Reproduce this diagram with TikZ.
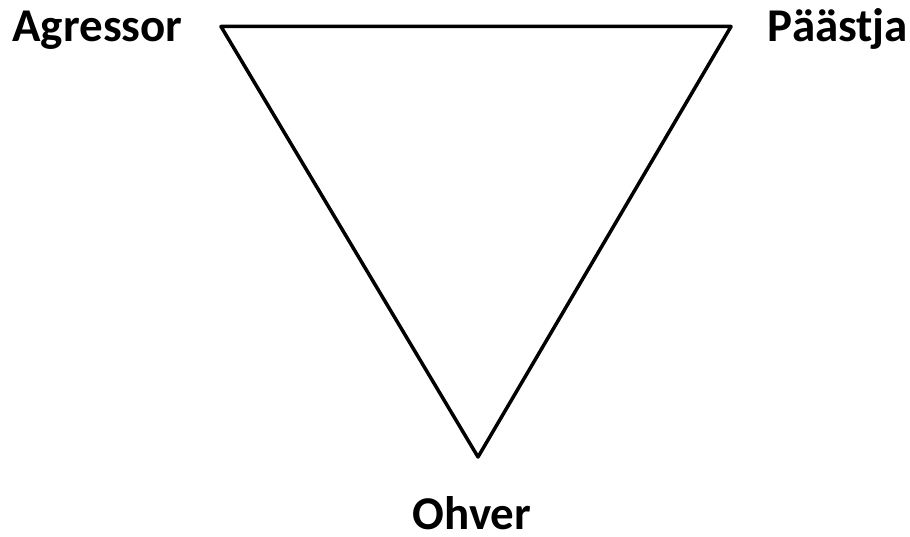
\documentclass[tikz,border=0pt]{standalone}
\usepackage{fontspec}
\setmainfont{Carlito}
\usetikzlibrary{positioning}

\begin{document}
\begin{tikzpicture}[
  x=1pt, y=-1pt,
  role/.style={font=\bfseries\fontsize{47}{52}\selectfont, inner sep=0pt, anchor=base},
  side/.style={draw=black, line width=3.5pt, line join=round},
]
\useasboundingbox (0,0) rectangle (910,537);
% corners of the triangle
\coordinate (agr) at (221,26.5);
\coordinate (pae) at (731,26.5);
\coordinate (ohv) at (478,457);
\draw[side] (agr) -- (pae) -- (ohv) -- cycle;
% role labels
\node[role] (lagr) at (97.5,42) {Agressor};
\node[role] (lpae) at (838,42) {Päästja};
\node[role] (lohv) at (472,529) {Ohver};
\end{tikzpicture}
\end{document}
